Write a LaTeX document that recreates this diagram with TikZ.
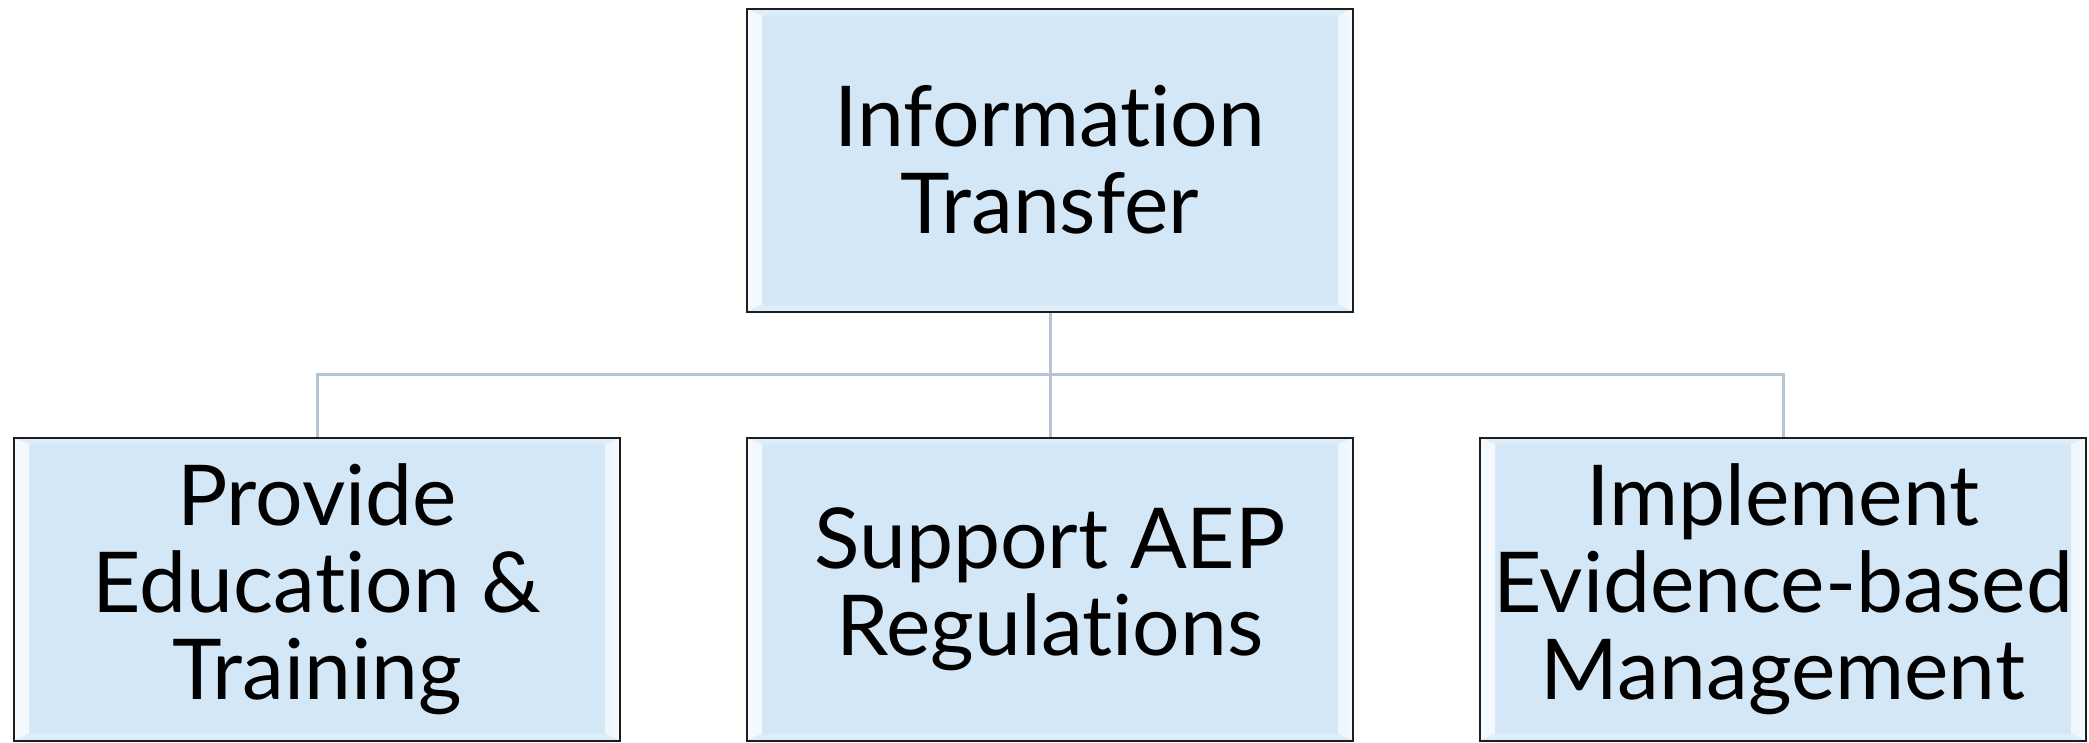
\documentclass[tikz,border=0pt]{standalone}
\usepackage{fontspec}
\setmainfont{Lato}[Ligatures=NoCommon]
\usetikzlibrary{calc}
\definecolor{boxfill}{HTML}{D4E7F6}
\definecolor{bevlight}{HTML}{F4FAFE}
\definecolor{bevtop}{HTML}{DDEDF9}
\definecolor{linkcol}{HTML}{B5C4D2}
\definecolor{edgecol}{HTML}{1E1E1E}
\tikzset{
  boxnode/.style={draw=edgecol, line width=2pt, fill=boxfill, inner sep=0pt,
    minimum width=606pt, minimum height=303pt, align=center,
    font=\fontsize{84}{87}\selectfont,
    path picture={
      \coordinate (nw) at (path picture bounding box.north west);
      \coordinate (ne) at (path picture bounding box.north east);
      \coordinate (sw) at (path picture bounding box.south west);
      \coordinate (se) at (path picture bounding box.south east);
      \fill[bevtop] (nw) -- (ne) -- ($(ne)+(-15,-7)$) -- ($(nw)+(15,-7)$) -- cycle;
      \fill[bevtop] (sw) -- (se) -- ($(se)+(-15,7)$) -- ($(sw)+(15,7)$) -- cycle;
      \shade[left color=bevlight, right color=white!70!boxfill] (nw) -- ($(nw)+(15,-7)$) -- ($(sw)+(15,7)$) -- (sw) -- cycle;
      \shade[left color=white!60!boxfill, right color=bevlight] (ne) -- ($(ne)+(-15,-7)$) -- ($(se)+(-15,7)$) -- (se) -- cycle;
    }},
  link/.style={draw=linkcol, line width=3pt}
}
\begin{document}
\begin{tikzpicture}[x=1pt,y=1pt]
\useasboundingbox (0,0) rectangle (2089,-742);
\node[boxnode] (top) at (1050,-160) {Information\\Transfer};
\node[boxnode] (left) at (317,-589) {Provide\\Education \&\\Training};
\node[boxnode] (mid) at (1050,-589) {Support AEP\\Regulations};
\node[boxnode] (right) at (1783,-589) {Implement\\Evidence-based\\Management};
\coordinate (hub) at (1050,-374);
\draw[link] (top.south) -- (hub);
\draw[link] (hub) -- (mid.north);
\draw[link] (hub) -| (left.north);
\draw[link] (hub) -| (right.north);
\end{tikzpicture}
\end{document}
